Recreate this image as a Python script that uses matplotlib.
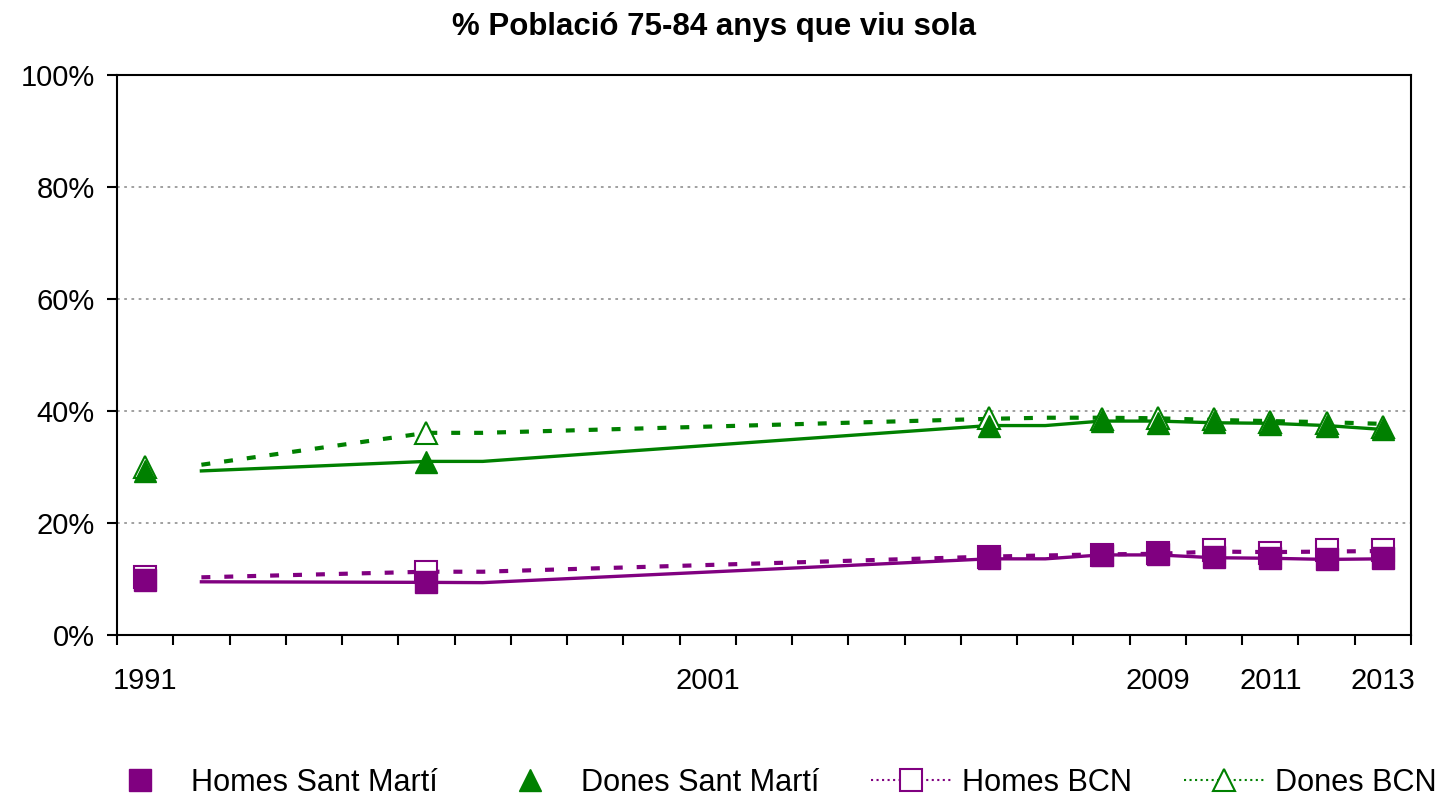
import matplotlib
matplotlib.use('Agg')
import matplotlib.pyplot as plt
from matplotlib.lines import Line2D
import matplotlib.ticker as tick

plt.rcParams['font.family'] = ['Liberation Sans', 'DejaVu Sans']

purple = '#800080'
green = '#008000'

# marker years (points that were surveyed)
years = [1991, 1996, 2006, 2008, 2009, 2010, 2011, 2012, 2013]
homes_sm = [9.9, 9.5, 13.7, 14.3, 14.4, 13.9, 13.7, 13.6, 13.7]
dones_sm = [29.3, 30.9, 37.4, 38.3, 37.9, 38.1, 37.7, 37.3, 36.7]
homes_bcn = [10.4, 11.2, 14.0, 14.3, 14.6, 15.1, 14.7, 15.1, 15.1]
dones_bcn = [30.0, 36.1, 38.8, 38.6, 38.8, 38.5, 38.1, 37.8, 37.2]

# trend lines (drawn as separate series)
line_years = [1992, 1996, 1997, 2006, 2007, 2008, 2009, 2010, 2011, 2012, 2013]
homes_sm_line = [9.5, 9.4, 9.35, 13.6, 13.6, 14.3, 14.3, 13.8, 13.7, 13.5, 13.6]
dones_sm_line = [29.3, 31.0, 31.0, 37.4, 37.4, 38.2, 38.2, 37.9, 37.8, 37.4, 36.7]
homes_bcn_line = [10.3, 11.3, 11.3, 14.0, 14.2, 14.4, 14.5, 14.9, 14.8, 14.9, 15.0]
dones_bcn_line = [30.4, 36.1, 36.1, 38.6, 38.8, 38.8, 38.7, 38.4, 38.2, 38.0, 37.7]

label_years = [1991, 2001, 2009, 2011, 2013]

fig = plt.figure(figsize=(14.49, 8.01), dpi=100)
ax = fig.add_axes([117 / 1449, 1 - 635 / 801, (1411 - 117) / 1449, (635 - 75) / 801])

def pct(v):
    return [x / 100 for x in v]

# lines
ax.plot(line_years, pct(homes_sm_line), color=purple, lw=2.4, zorder=2)
ax.plot(line_years, pct(dones_sm_line), color=green, lw=2.4, zorder=2)
ax.plot(line_years, pct(homes_bcn_line), color=purple, lw=3.0, ls=(0, (2.15, 3.35)), zorder=2)
ax.plot(line_years, pct(dones_bcn_line), color=green, lw=3.0, ls=(0, (2.15, 3.35)), zorder=2)

# markers
ax.plot(years, pct(homes_bcn), ls='none', marker='s', ms=15.5, mfc='white', mec=purple, mew=1.5, zorder=3)
ax.plot(years, pct(dones_bcn), ls='none', marker='^', ms=16, mfc='white', mec=green, mew=1.5, zorder=3)
ax.plot(years, pct(homes_sm), ls='none', marker='s', ms=15.5, color=purple, zorder=4)
ax.plot(years, pct(dones_sm), ls='none', marker='^', ms=16, color=green, zorder=4)

ax.set_xlim(1990.5, 2013.5)
ax.set_ylim(0, 1)
ax.set_yticks([0, 0.2, 0.4, 0.6, 0.8, 1.0])
ax.yaxis.set_major_formatter(tick.FuncFormatter(lambda v, p: '%d%%' % round(v * 100)))
ax.grid(axis='y', color='#999999', lw=1.3, ls=(0, (1.5, 2.5)))
ax.set_axisbelow(True)

ax.set_xticks([1990.5 + k for k in range(24)])
ax.set_xticklabels([])
ax.set_xticks(label_years, minor=True)
ax.set_xticklabels([str(y) for y in label_years], minor=True)
ax.tick_params(axis='x', which='major', direction='out', length=7, width=1.5)
ax.tick_params(axis='x', which='minor', length=0, pad=23, labelsize=21)
ax.tick_params(axis='y', direction='out', length=7, width=1.5, pad=9, labelsize=21)
for s in ax.spines.values():
    s.set_linewidth(1.5)

fig.text(0.493, 1 - 27 / 801, '% Població 75-84 anys que viu sola', ha='center', va='center',
         fontsize=22.5, fontweight='bold')

handles = [
    Line2D([], [], ls='none', marker='s', ms=15.5, color=purple),
    Line2D([], [], ls='none', marker='^', ms=16, color=green),
    Line2D([], [], ls=':', lw=1.5, color=purple, marker='s', ms=15.5, mfc='white', mec=purple, mew=1.5),
    Line2D([], [], ls=':', lw=1.5, color=green, marker='^', ms=16, mfc='white', mec=green, mew=1.5),
]
labels = ['Homes Sant Martí', 'Dones Sant Martí', 'Homes BCN', 'Dones BCN']
fig.legend(handles, labels, loc='center left', bbox_to_anchor=(100 / 1449, 1 - 783 / 801), ncol=4,
           frameon=False, fontsize=22.1, handlelength=2.6, handletextpad=0.36, columnspacing=1.7,
           borderpad=0, borderaxespad=0, numpoints=1)

fig.savefig('out.png', dpi=100)
